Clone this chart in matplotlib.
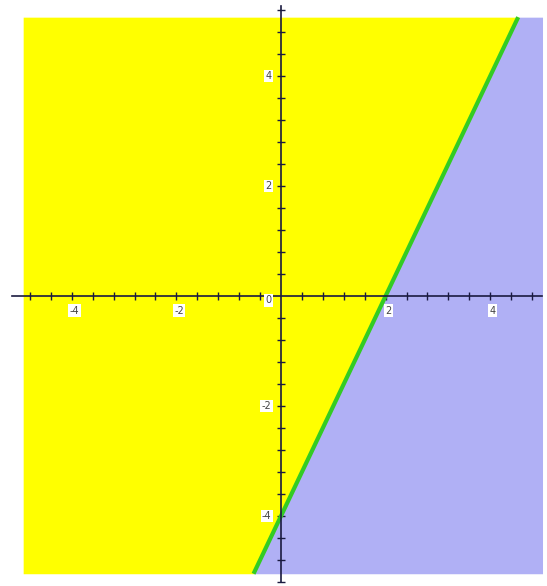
import numpy as np
import matplotlib.pyplot as plt

# boundary line y = slope*x + intercept
slope = 2
intercept = -4
# shaded region
x_region = [-4.93, 5.0]
y_region = [-5.05, 5.07]
# axis extents
x_axis = [-5.14, 4.99]
y_axis = [-5.2, 5.27]
tick_labels = [-4, -2, 2, 4]

fig = plt.figure(figsize=(5.47, 5.86), dpi=100)
ax = fig.add_axes([0, 0, 1, 1])
ax.set_xlim(-5.373, 5.086)
ax.set_ylim(-5.273, 5.382)

xs = np.linspace(x_region[0], x_region[1], 400)
ys = np.clip(slope * xs + intercept, y_region[0], y_region[1])
ax.fill_between(xs, ys, y_region[1], color='#ffff00', lw=0, zorder=1)
ax.fill_between(xs, y_region[0], ys, color='#b0b0f5', lw=0, zorder=1)

# line clipped to region
x_lo = (y_region[0] - intercept) / slope
x_hi = (y_region[1] - intercept) / slope
lx = np.array([x_lo, x_hi])
ax.plot(lx, slope * lx + intercept, color='#33cc22', lw=3, zorder=3,
        solid_capstyle='butt')

# axes through origin
for s in ['top', 'right']:
    ax.spines[s].set_visible(False)
ax.spines['left'].set_position(('data', 0))
ax.spines['bottom'].set_position(('data', 0))
ax.spines['bottom'].set_bounds(x_axis[0], x_axis[1])
ax.spines['left'].set_bounds(y_axis[0], y_axis[1])
for s in ['left', 'bottom']:
    ax.spines[s].set_color('#1a1a40')
    ax.spines[s].set_linewidth(1.2)
    ax.spines[s].set_zorder(4)

xt = np.arange(-12, 13) * 0.4
yt = np.arange(-13, 14) * 0.4
ax.set_xticks([t for t in xt if x_axis[0] <= t <= x_axis[1] and abs(t) > 1e-9])
ax.set_yticks([t for t in yt if y_axis[0] <= t <= y_axis[1] and abs(t) > 1e-9])
ax.tick_params(direction='inout', length=6, width=1, color='#1a1a40',
               labelbottom=False, labelleft=False)

for v in tick_labels:
    ax.text(v + 0.05, -0.27, str(v), ha='center', va='center', fontsize=7,
            color='#444444', zorder=5,
            bbox=dict(boxstyle='square,pad=0.15', fc='white', ec='none'))
    ax.text(-0.18, v, str(v), ha='right', va='center', fontsize=7,
            color='#444444', zorder=5,
            bbox=dict(boxstyle='square,pad=0.15', fc='white', ec='none'))
ax.text(-0.18, -0.08, '0', ha='right', va='center', fontsize=7,
        color='#444444', zorder=5,
        bbox=dict(boxstyle='square,pad=0.15', fc='white', ec='none'))

fig.savefig('out.png', dpi=100)
